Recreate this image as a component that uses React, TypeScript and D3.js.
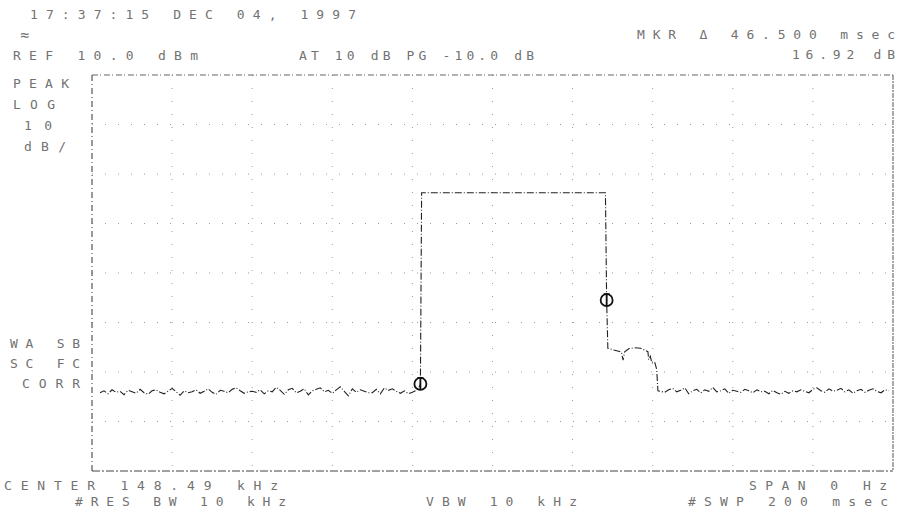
import React from "react";
import * as d3 from "d3";

// Zero-span sweep: time (ms) against level (dBm)
const SWEEP_MS = 200;
const REF_LEVEL_DBM = 10;
const DB_PER_DIV = 10;
const V_DIVS = 8;
const H_DIVS = 10;

// Noise floor before the burst, one sample per ms starting at 2 ms
const LEFT_START_MS = 2;
const leftNoiseDbm = [
  -54.2, -53.8, -54.4, -53.6, -54.1, -53.9, -54.6, -53.7, -54.0, -54.3,
  -53.5, -54.2, -54.5, -53.8, -53.6, -54.1, -54.4, -53.9, -53.3, -54.0,
  -54.7, -53.8, -54.2, -54.0, -53.6, -54.3, -53.9, -53.4, -54.1, -54.5,
  -53.7, -53.9, -54.2, -53.5, -53.2, -53.8, -54.3, -54.0, -53.9, -54.1,
  -53.6, -54.4, -53.8, -54.0, -53.1, -53.7, -54.5, -53.6, -53.3, -54.2,
  -53.9, -53.4, -54.6, -53.8, -53.5, -53.2, -54.0, -53.7, -54.3, -53.6,
  -53.0, -53.9, -54.8, -53.4, -54.1, -53.6, -53.9, -54.2, -54.2, -53.5,
  -54.4, -53.2, -53.7, -53.4, -53.9, -54.3, -53.8, -54.4, -54.1, -53.7,
];

// Burst: rising edge, flat top, falling edge and the shoulder after it
const burstTimesMs = [81.6, 82.0, 82.3, 128.2, 128.5, 128.8, 130.0, 131.5, 132.2, 132.6, 133.0, 134.0, 135.5, 137.0, 138.0, 138.8, 139.0, 139.4, 139.8, 140.5, 141.0, 141.3];
const burstDbm = [-53.2, -52.4, -13.8, -13.8, -35.48, -45.2, -45.5, -45.8, -46.0, -47.6, -45.9, -45.3, -45.1, -45.2, -45.6, -45.9, -47.5, -46.8, -48.2, -48.0, -49.5, -53.8];

// Noise floor after the burst, one sample per ms starting at 142 ms
const RIGHT_START_MS = 142;
const rightNoiseDbm = [
  -53.9, -54.1, -53.6, -53.3, -54.0, -53.7, -53.2, -54.4, -53.8, -53.5,
  -54.2, -53.6, -53.9, -53.1, -54.0, -53.8, -53.4, -54.3, -53.7, -53.9,
  -54.1, -53.5, -53.8, -54.2, -53.6, -54.0, -53.9, -54.4, -53.7, -54.2,
  -54.5, -53.9, -54.3, -53.8, -54.0, -53.6, -53.9, -54.2, -53.5, -53.2,
  -53.8, -54.1, -53.4, -53.9, -53.7, -53.3, -54.0, -53.6, -54.3, -53.8,
  -53.5, -54.1, -53.7, -53.4, -53.9, -54.2, -53.6, -53.8,
];

// Marker (reference) and delta marker
const markerTimesMs = [82.0, 128.5];
const markerDbm = [-52.4, -35.48];

// Annotation text
const headerDate = "17:37:15 DEC 04, 1997";
const headerRef = "REF 10.0 dBm";
const headerAtten = "AT 10 dB PG -10.0 dB";
const headerMarker = "MKR \u0394 46.500 msec";
const headerMarkerValue = "16.92 dB";
const leftLabelsTop = ["PEAK", "LOG", "10", "dB/"];
const leftLabelsBottom = ["WA SB", "SC FC", "CORR"];
const footerCenter = "CENTER 148.49 kHz";
const footerSpan = "SPAN 0 Hz";
const footerRbw = "#RES BW 10 kHz";
const footerVbw = "VBW 10 kHz";
const footerSweep = "#SWP 200 msec";

const W = 911;
const H = 521;
const left = 92;
const right = 893;
const top = 75;
const bottom = 471;

const TEXT_FILL = "#727272";
const FONT = "'DejaVu Sans Mono', 'Liberation Mono', monospace";

function Label({ text, x0, x1, yc, size = 13 }: { text: string; x0: number; x1: number; yc: number; size?: number }) {
  return (
    <text
      x={x0}
      y={yc + size * 0.36}
      textLength={x1 - x0}
      lengthAdjust="spacing"
      fontFamily={FONT}
      fontSize={size}
      fill={TEXT_FILL}
    >
      {text}
    </text>
  );
}

export default function App() {
  const x = d3.scaleLinear().domain([0, SWEEP_MS]).range([left, right]);
  const y = d3
    .scaleLinear()
    .domain([REF_LEVEL_DBM - DB_PER_DIV * V_DIVS, REF_LEVEL_DBM])
    .range([bottom, top]);

  const points: [number, number][] = [];
  leftNoiseDbm.forEach((v, i) => points.push([LEFT_START_MS + i, v]));
  burstTimesMs.forEach((t, i) => points.push([t, burstDbm[i]]));
  rightNoiseDbm.forEach((v, i) => points.push([RIGHT_START_MS + i, v]));

  const line = d3
    .line<[number, number]>()
    .x((d) => x(d[0]))
    .y((d) => y(d[1]));

  const xGrid = d3.range(1, H_DIVS).map((i) => x((SWEEP_MS / H_DIVS) * i));
  const yGrid = d3.range(1, V_DIVS).map((i) => y(REF_LEVEL_DBM - DB_PER_DIV * i));

  return (
    <div style={{ position: "absolute", left: 0, top: 0, width: W, height: H, background: "#fff" }}>
      <svg width={W} height={H} style={{ display: "block" }}>
        <rect width={W} height={H} fill="#fff" />

        {/* graticule */}
        <g stroke="#9a9a9a" strokeWidth={1} strokeDasharray="1 12">
          {xGrid.map((gx, i) => (
            <line key={"vx" + i} x1={gx} x2={gx} y1={top} y2={bottom} />
          ))}
          {yGrid.map((gy, i) => (
            <line key={"hy" + i} x1={left} x2={right} y1={gy} y2={gy} />
          ))}
        </g>

        {/* frame */}
        <g fill="none" strokeWidth={1}>
          <line x1={left} x2={right} y1={top} y2={top} stroke="#666" strokeDasharray="6 2 1 3" />
          <line x1={left} x2={right} y1={bottom} y2={bottom} stroke="#444" strokeDasharray="8 2 2 2" />
          <line x1={left} x2={left} y1={top} y2={bottom} stroke="#333" strokeDasharray="6 3 1 3" />
          <line x1={right} x2={right} y1={top} y2={bottom} stroke="#555" strokeDasharray="5 1 2 1" />
        </g>

        {/* trace */}
        <path
          d={line(points) ?? ""}
          fill="none"
          stroke="#222"
          strokeWidth={1.1}
          strokeDasharray="7 2 1 2"
        />

        {/* markers */}
        {markerTimesMs.map((t, i) => {
          const mx = x(t);
          const my = y(markerDbm[i]);
          return (
            <g key={"m" + i} stroke="#111" fill="none" strokeWidth={1.8}>
              <circle cx={mx} cy={my} r={6} />
              <line x1={mx} x2={mx} y1={my - 7} y2={my + 6} />
              <line x1={mx - 3} x2={mx + 3} y1={my - 6} y2={my - 6} />
            </g>
          );
        })}

        {/* header */}
        <Label text={headerDate} x0={30} x1={356} yc={14} />
        <text x={20} y={40} fontFamily={FONT} fontSize={15} fill={TEXT_FILL}>
          {"\u2248"}
        </text>
        <Label text={headerRef} x0={13} x1={198} yc={55} />
        <Label text={headerAtten} x0={299} x1={534} yc={55} />
        <Label text={headerMarker} x0={637} x1={895} yc={34} />
        <Label text={headerMarkerValue} x0={792} x1={895} yc={54} />

        {/* side annotations */}
        {leftLabelsTop.map((s, i) => (
          <Label key={"lt" + i} text={s} x0={i >= 2 ? 24 : 13} x1={(i >= 2 ? 24 : 13) + s.length * 14} yc={83 + i * 21} />
        ))}
        {leftLabelsBottom.map((s, i) => (
          <Label key={"lb" + i} text={s} x0={i === 2 ? 22 : 10} x1={80} yc={343 + i * 20} />
        ))}

        {/* footer */}
        <Label text={footerCenter} x0={4} x1={278} yc={485} />
        <Label text={footerSpan} x0={749} x1={887} yc={485} />
        <Label text={footerRbw} x0={75} x1={286} yc={501} />
        <Label text={footerVbw} x0={426} x1={577} yc={501} />
        <Label text={footerSweep} x0={688} x1={888} yc={501} />
      </svg>
    </div>
  );
}
